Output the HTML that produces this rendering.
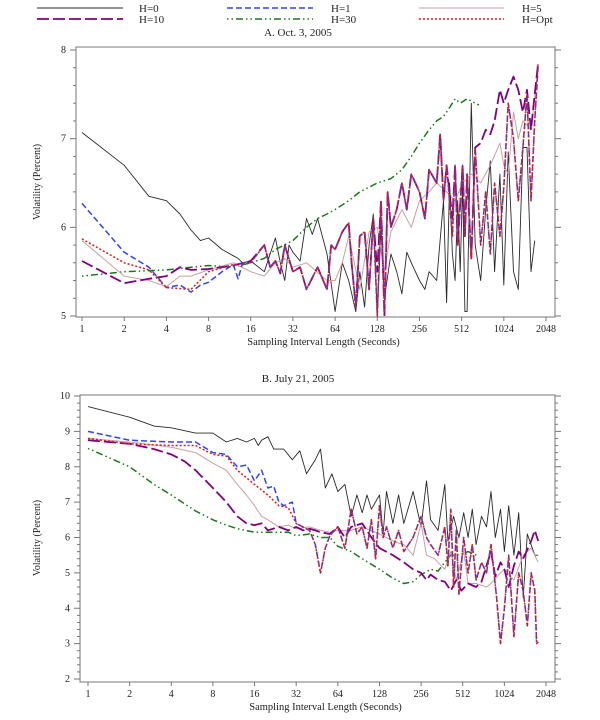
<!DOCTYPE html>
<html><head><meta charset="utf-8"><style>
body{margin:0;background:#fff;width:600px;height:720px;overflow:hidden}
svg{display:block;font-family:"Liberation Serif",serif}
</style></head><body>
<svg id="chart" width="600" height="720">
<g id="legend"></g>
</svg>
<script>
// ---- Panel A data (Oct. 3, 2005) ----
const aH0x=[1,2,3,4,5,6,7,8,10,12,13,14,16,20,24,26,28,30,32,36,40,44,48,56,64,72,80,90,96,104,112,120,128,136,144,160,176,192,208,224,256,280,300,340,380,400,420,440,460,480,500,520,540,560,600,640,700,760,820,880,960,1024,1100,1200,1300,1400,1500,1600,1700];
const aH0y=[7.07,6.7,6.35,6.3,6.15,5.97,5.85,5.88,5.75,5.68,5.65,5.6,5.62,5.5,5.88,5.6,5.4,5.8,5.72,5.62,6.1,5.92,6.1,5.7,5.05,5.6,5.4,5.05,5.5,5.1,5.8,6.15,5.0,6.0,5.2,5.7,5.5,5.25,5.72,5.6,5.4,5.3,5.5,5.4,6.3,5.15,6.5,5.7,5.4,6.3,5.5,6.5,5.05,5.05,7.4,5.8,5.4,6.2,6.75,5.5,6.6,5.35,6.85,5.5,5.3,6.9,6.9,5.5,5.85];
const aH10x=[1,2,3,4,5,6,8,12,16,20,22,24,26,28,32,36,40,48,56,60,64,72,80,84,90,96,104,112,120,128,136,144,152,160,176,192,208,224,256,280,300,340,360,380,400,440,460,480,520,540,560,600,640,700,760,820,880,960,1024,1100,1200,1300,1400,1500,1600,1700,1800];
const aH10y=[5.62,5.37,5.42,5.45,5.55,5.52,5.53,5.57,5.62,5.8,5.55,5.62,5.48,5.8,5.5,5.55,5.3,5.55,5.3,5.8,5.75,5.95,6.05,5.6,5.1,5.9,5.95,5.3,6.1,5.5,6.3,5.0,6.4,6.0,6.2,6.5,6.2,6.6,6.4,6.1,6.65,6.5,7.05,6.3,6.7,6.1,6.7,5.8,6.7,5.9,6.6,5.65,6.9,6.95,7.1,7.05,7.2,7.55,7.4,7.55,7.7,7.55,7.3,7.55,7.1,7.5,7.85];
const aH1x=[1,2,3,4,5,6,7,8,10,12,13,14,16,20,22,24,26,28,32,36,40,48,56,60,64,72,80,84,90,96,104,112,120,128,136,144,152,160,176,192,208,224,256,280,300,340,360,380,400,440,460,480,520,540,560,600,640,700,760,820,880,960,1024,1100,1200,1300,1400,1500,1600,1700,1800];
const aH1y=[6.27,5.72,5.55,5.32,5.35,5.27,5.35,5.38,5.5,5.58,5.42,5.6,5.6,5.8,5.55,5.62,5.48,5.8,5.5,5.55,5.3,5.55,5.3,5.8,5.75,5.95,6.05,5.6,5.1,5.9,5.95,5.3,6.1,5.0,6.3,5.05,6.4,6.0,6.2,6.5,6.2,6.6,6.4,6.1,6.65,6.5,7.05,6.3,6.7,5.9,6.7,5.8,6.7,5.9,6.6,5.65,6.9,5.8,6.4,5.7,6.5,5.9,6.45,7.4,7.0,6.3,6.9,7.5,6.3,7.2,7.8];
const aOptx=[1,2,3,4,6,8,12,16,20,22,24,26,28,32,36,40,48,56,60,64,72,80,84,90,96,104,112,120,128,136,144,152,160,176,192,208,224,256,280,300,340,360,380,400,440,460,480,520,540,560,600,640,700,760,820,880,960,1024,1100,1200,1300,1400,1500,1600,1700,1800];
const aOpty=[5.87,5.6,5.52,5.32,5.3,5.5,5.58,5.6,5.8,5.55,5.62,5.48,5.8,5.5,5.55,5.3,5.55,5.3,5.8,5.75,5.95,6.05,5.6,5.1,5.9,5.95,5.3,6.1,5.0,6.3,5.05,6.4,6.0,6.2,6.5,6.2,6.6,6.4,6.1,6.65,6.5,7.05,6.3,6.7,5.9,6.7,5.8,6.7,5.9,6.6,5.65,6.9,5.8,6.4,5.7,6.5,5.9,6.45,7.4,7.0,6.3,6.9,7.5,6.3,7.2,7.85];
const aH5x=[1,2,3,4,5,6,8,12,16,20,24,28,32,40,56,64,72,80,96,112,128,144,160,192,224,256,300,340,400,460,520,600,700,820,960,1024,1100,1200,1300,1400,1600,1800];
const aH5y=[5.85,5.45,5.4,5.33,5.45,5.45,5.52,5.6,5.5,5.45,5.6,5.65,5.55,5.6,5.4,5.4,5.6,5.9,5.3,5.95,6.0,5.5,5.95,6.2,6.0,6.3,6.4,6.5,6.4,6.3,6.5,6.6,6.5,6.7,6.95,6.7,6.6,7.3,7.0,7.2,7.1,7.8];
const aH30x=[1,2,4,8,12,16,20,24,32,40,48,56,64,80,96,128,160,192,224,256,300,340,380,420,460,500,560,640,680];
const aH30y=[5.45,5.5,5.52,5.57,5.55,5.6,5.65,5.75,5.85,6.0,6.1,6.15,6.2,6.3,6.4,6.5,6.55,6.65,6.8,6.95,7.1,7.2,7.25,7.35,7.45,7.4,7.45,7.4,7.38];
// ---- Panel B data (July 21, 2005) ----
const bH0x=[1,2,3,4,6,8,10,12,14,16,17,18,20,22,26,30,34,38,44,48,52,58,64,72,80,88,96,104,112,128,136,144,160,176,192,224,256,280,300,340,380,400,440,480,520,560,600,640,700,760,820,880,960,1024,1100,1200,1300,1400,1500,1700,1800];
const bH0y=[9.7,9.4,9.15,9.1,8.95,8.95,8.7,8.8,8.7,8.8,8.6,8.75,8.85,8.5,8.5,8.2,8.45,7.8,8.2,8.5,7.4,7.8,7.3,7.5,6.6,7.2,6.7,7.2,6.8,7.2,6.1,7.3,6.4,7.2,6.4,7.3,6.3,7.6,6.5,6.2,7.5,5.9,6.6,6.0,6.7,6.0,6.8,5.8,6.6,6.3,7.3,6.0,6.8,5.6,6.9,5.5,6.7,4.3,6.1,5.5,5.5];
const bH10x=[1,2,3,4,5,6,8,10,12,14,16,18,20,24,28,32,36,40,44,48,56,64,72,80,96,112,128,160,192,224,256,280,300,340,380,420,460,500,560,640,700,760,820,880,960,1024,1100,1200,1300,1400,1600,1700,1800];
const bH10y=[8.75,8.65,8.5,8.35,8.15,7.9,7.4,7.0,6.6,6.4,6.35,6.4,6.2,6.3,6.2,6.3,6.2,6.25,6.2,6.15,6.1,6.3,6.0,6.3,6.4,6.0,5.7,5.5,5.3,5.1,5.0,4.8,4.95,4.8,4.75,4.5,4.8,4.5,4.7,4.6,4.75,5.2,5.6,4.9,5.3,5.1,4.6,5.2,5.6,5.4,5.9,6.2,5.9];
const bH1x=[1,2,4,6,8,10,12,14,16,18,20,22,24,26,28,30,32,40,44,48,52,56,64,72,80,88,96,104,112,120,128,136,144,160,176,192,224,256,280,300,340,380,400,420,440,460,480,520,560,600,640,700,760,820,900,960,1024,1100,1200,1300,1400,1500,1600,1700,1750,1800];
const bH1y=[9.0,8.75,8.7,8.7,8.4,8.35,8.0,8.05,7.6,7.9,7.4,7.45,7.0,6.9,6.95,7.0,6.4,6.2,5.8,5.0,5.7,6.05,6.3,5.7,6.8,6.1,6.3,5.7,6.5,5.4,6.9,6.0,6.3,5.7,6.2,5.6,6.0,6.6,6.0,5.8,5.5,6.3,5.2,6.8,4.6,6.2,4.4,6.0,5.0,5.8,4.8,5.3,5.0,5.8,4.3,3.0,4.0,5.5,3.2,5.0,4.5,3.5,5.0,4.5,3.0,3.05];
const bOptx=[1,2,4,6,8,10,12,16,20,24,28,32,40,44,48,52,56,64,72,80,88,96,104,112,120,128,136,144,160,176,192,224,256,280,300,340,380,400,420,440,460,480,520,560,600,640,700,760,820,900,960,1024,1100,1200,1300,1400,1500,1600,1700,1750,1800];
const bOpty=[8.8,8.65,8.6,8.6,8.35,8.3,7.9,7.5,7.2,6.9,6.85,6.4,6.2,5.8,5.0,5.7,6.05,6.3,5.7,6.8,6.1,6.3,5.7,6.5,5.4,6.9,6.0,6.3,5.7,6.2,5.6,6.0,6.6,6.0,5.8,5.5,6.3,5.2,6.8,4.6,6.2,4.4,6.0,5.0,5.8,4.8,5.3,5.0,5.8,4.3,3.0,4.0,5.5,3.2,5.0,4.5,3.5,5.0,4.5,3.0,3.05];
const bH5x=[1,2,4,6,8,10,12,14,16,18,20,24,28,32,40,48,56,64,80,96,128,160,192,224,256,280,320,380,420,460,520,560,640,760,820,960,1024,1200,1400,1600,1800];
const bH5y=[8.8,8.7,8.55,8.4,8.1,7.9,7.5,7.2,6.9,6.6,6.5,6.3,6.35,6.25,6.3,6.2,6.15,6.2,6.2,6.3,6.1,5.9,5.8,5.5,6.4,5.5,5.4,5.1,5.6,4.8,5.6,4.7,4.7,4.6,4.7,5.0,5.1,4.8,5.5,5.7,5.3];
const bH30x=[1,2,3,4,5,6,8,10,12,16,20,24,28,32,40,48,56,64,80,96,128,160,192,224,256,300,340,380,420,460,520,560,600,646];
const bH30y=[8.52,8.0,7.5,7.2,6.95,6.75,6.5,6.35,6.25,6.15,6.15,6.15,6.15,6.05,6.1,6.0,6.0,5.75,5.6,5.4,5.1,4.85,4.7,4.75,4.95,5.1,5.05,5.3,5.5,5.5,5.55,5.6,5.55,5.5];
const xTicks=[1,2,4,8,16,32,64,128,256,512,1024,2048];
const aYTicks=[5,6,7,8];
const bYTicks=[2,3,4,5,6,7,8,9,10];

const NS="http://www.w3.org/2000/svg";
const svg=document.getElementById('chart');
function mk(tag,attrs,parent){const e=document.createElementNS(NS,tag);for(const k in attrs)e.setAttribute(k,attrs[k]);(parent||svg).appendChild(e);return e;}

const styles={
 H0:{stroke:'#2a2a2a',w:0.9,dash:''},
 H1:{stroke:'#3344ee',w:1.5,dash:'6,3'},
 H5:{stroke:'#c9a0a0',w:1,dash:''},
 H10:{stroke:'#800080',w:1.8,dash:'12,4'},
 H30:{stroke:'#1a7a1a',w:1.5,dash:'1.5,3,1.5,3,7,3'},
 Opt:{stroke:'#e01818',w:1.5,dash:'2,2'}
};

function panel(cfg){
 const g=mk('g',{});
 
 
 const xs=v=>cfg.x0+(cfg.x1-cfg.x0)*Math.log2(v)/11;
 const ys=v=>cfg.ybot-(cfg.ybot-cfg.ytop)*(v-cfg.lo)/(cfg.hi-cfg.lo);
 const box=mk('rect',{x:cfg.L,y:cfg.T,width:cfg.R-cfg.L,height:cfg.B-cfg.T,fill:'none',stroke:'#777','stroke-width':1},g);
 
 for(let v=cfg.lo;v<=cfg.hi+1e-9;v+=0.2){
  const y=ys(v),major=Math.abs(v-Math.round(v))<1e-6;
  const len=major?6:3;
  mk('line',{x1:cfg.L-len,x2:cfg.L,y1:y,y2:y,stroke:'#777'},g);
  mk('line',{x1:cfg.R,x2:cfg.R+len,y1:y,y2:y,stroke:'#777'},g);
 }
 cfg.yt.forEach(v=>{const t=mk('text',{x:cfg.L-10,y:ys(v)+3,'font-size':10,'text-anchor':'end',fill:'#222'},g);t.textContent=v;
  });
 xTicks.forEach(v=>{const x=xs(v);mk('line',{x1:x,x2:x,y1:cfg.B,y2:cfg.B+4,stroke:'#777'},g);
  const t=mk('text',{x:x,y:cfg.B+15,'font-size':10,'text-anchor':'middle',fill:'#222'},g);t.textContent=v;
  });
 const xt=mk('text',{x:(cfg.L+cfg.R)/2+8,y:cfg.B+28,'font-size':10.5,'text-anchor':'middle',fill:'#222'},g);
 xt.textContent='Sampling Interval Length (Seconds)';
 
 const yt=mk('text',{x:0,y:0,'font-size':10,'text-anchor':'middle',fill:'#222',transform:`translate(40,${cfg.ymid}) rotate(-90)`},g);
 yt.textContent='Volatility (Percent)';
 
 const tt=mk('text',{x:298,y:cfg.titleY,'font-size':11,'text-anchor':'middle',fill:'#222'},g);
 tt.textContent=cfg.title;
 
 cfg.series.forEach(s=>{
  const st=styles[s.k];
  const pts=s.x.map((xv,i)=>xs(xv).toFixed(1)+','+ys(s.y[i]).toFixed(1)).join(' ');
  const p=mk('polyline',{points:pts,fill:'none',stroke:st.stroke,'stroke-width':st.w,'stroke-dasharray':st.dash,'stroke-linejoin':'round'},g);
  
  
 });
}

panel({name:'panel-a',title:'A. Oct. 3, 2005',titleY:36,L:76,R:555,T:47,B:317,x0:82,x1:546,ytop:50,ybot:316,lo:5,hi:8,yt:aYTicks,ymid:182,
 series:[{k:'H0',x:aH0x,y:aH0y},{k:'H30',x:aH30x,y:aH30y},{k:'H5',x:aH5x,y:aH5y},{k:'H10',x:aH10x,y:aH10y},{k:'H1',x:aH1x,y:aH1y},{k:'Opt',x:aOptx,y:aOpty}]});
panel({name:'panel-b',title:'B. July 21, 2005',titleY:382,L:80,R:555,T:395,B:682,x0:88,x1:546,ytop:396,ybot:679,lo:2,hi:10,yt:bYTicks,ymid:538,
 series:[{k:'H0',x:bH0x,y:bH0y},{k:'H30',x:bH30x,y:bH30y},{k:'H5',x:bH5x,y:bH5y},{k:'H10',x:bH10x,y:bH10y},{k:'H1',x:bH1x,y:bH1y},{k:'Opt',x:bOptx,y:bOpty}]});
</script>
<script>
(function(){
 const lg=document.getElementById('legend');
 const items=[['H0','H=0',37,123,139,8],['H1','H=1',227,313,331,8],['H5','H=5',419,504,522,8],
  ['H10','H=10',37,123,139,19],['H30','H=30',227,313,331,19],['Opt','H=Opt',419,504,522,19]];
 items.forEach(it=>{
  const st=styles[it[0]];
  const l=mk('line',{x1:it[2],x2:it[3],y1:it[5],y2:it[5],stroke:st.stroke,'stroke-width':st.w,'stroke-dasharray':st.dash},lg);
  
  
  const t=mk('text',{x:it[4],y:it[5]+4,'font-size':11,fill:'#222'},lg);
  t.textContent=it[1];
  
  
 });
})();
</script>
</body></html>
